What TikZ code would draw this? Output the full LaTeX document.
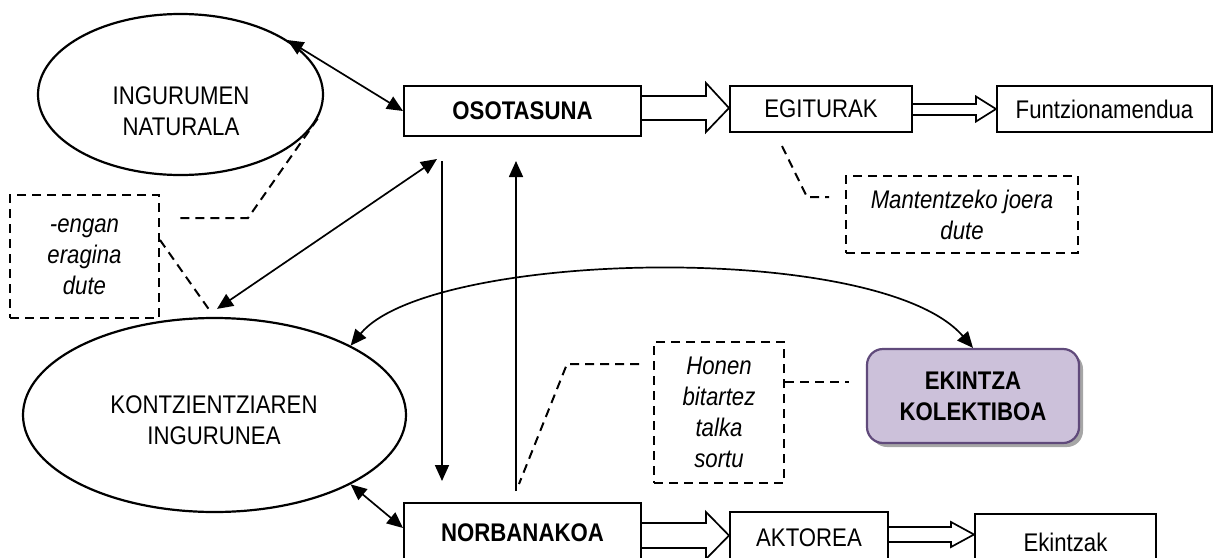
\documentclass[tikz,border=0pt]{standalone}
\usepackage{fontspec}
\setmainfont{Liberation Sans}[FakeStretch=0.87]
\usetikzlibrary{shapes.geometric,arrows.meta,calc,shadows}
\definecolor{ekfill}{HTML}{CCC1DA}
\definecolor{ekborder}{HTML}{604A7B}
\begin{document}
\begin{tikzpicture}[x=1pt,y=-1pt,
  font=\fontsize{25.5}{31}\selectfont,
  box/.style={draw, line width=2pt, inner sep=0pt, align=center},
  boldbox/.style={box, font=\fontsize{25.5}{31}\selectfont\bfseries},
  oval/.style={draw, ellipse, line width=2.2pt, inner sep=0pt},
  ovaltext/.style={align=center, inner sep=0pt},
  note/.style={draw, line width=2pt, dash pattern=on 9pt off 6pt, inner sep=0pt, align=center, font=\fontsize{25.5}{31}\selectfont\itshape},
  link/.style={line width=1.7pt, -{Triangle[length=16pt,width=14pt]}},
  dlink/.style={line width=1.7pt, {Triangle[length=16pt,width=14pt]}-{Triangle[length=16pt,width=14pt]}},
  dashline/.style={line width=2pt, dash pattern=on 9pt off 6pt},
  block/.style={draw, line width=1.7pt, fill=white, line join=miter}]
\clip (0,0) rectangle (1213,557);

% ellipses
\node[oval, minimum width=285pt, minimum height=161pt] (e1) at (180.5,94.5) {};
\node[ovaltext] (e1t) at (181,111.5) {INGURUMEN\\NATURALA};
\node[oval, minimum width=383pt, minimum height=194pt] (e2) at (214.5,415) {};
\node[ovaltext] (e2t) at (214,420.5) {KONTZIENTZIAREN\\INGURUNEA};

% boxes
\node[boldbox, minimum width=237pt, minimum height=50pt] (osot) at (522.5,111) {OSOTASUNA};
\node[box, minimum width=182pt, minimum height=46pt] (egit) at (821,109) {EGITURAK};
\node[box, minimum width=215pt, minimum height=46pt] (funtz) at (1104.5,109) {Funtzionamendua};
\node[boldbox, minimum width=237pt, minimum height=60pt] (norb) at (522.5,533) {NORBANAKOA};
\node[box, minimum width=158pt, minimum height=52pt] (akt) at (809,538) {AKTOREA};
\node[box, minimum width=181pt, minimum height=56pt] (ekz) at (1065.5,542) {Ekintzak};

% notes
\node[note, minimum width=232pt, minimum height=77pt] (mant) at (962,214.5) {Mantentzeko joera\\dute};
\node[note, minimum width=149pt, minimum height=123pt] (engan) at (84.5,256.5) {-engan\\eragina\\dute};
\node[note, minimum width=130pt, minimum height=141pt] (honen) at (719,412.5) {Honen\\bitartez\\talka\\sortu};

% collective action
\node[draw=ekborder, fill=ekfill, rounded corners=16pt, line width=2.2pt,
      minimum width=212pt, minimum height=94pt, align=center, inner sep=0pt,
      font=\fontsize{25.5}{31}\selectfont\bfseries,
      drop shadow={shadow xshift=4pt, shadow yshift=-4pt, fill=black!35, opacity=1}] (ekin) at (973,396) {EKINTZA\\KOLEKTIBOA};

% block arrows
\draw[block] ($(osot.east)+(0,-15)$) -- ($(egit.west)+(-23,-13)$) -- ($(egit.west)+(-23,-26)$) -- ($(egit.west)+(0,-1)$)
  -- ($(egit.west)+(-23,23)$) -- ($(egit.west)+(-23,11)$) -- ($(osot.east)+(0,9)$);
\draw[block] ($(egit.east)+(0,-5)$) -- ($(funtz.west)+(-20,-5)$) -- ($(funtz.west)+(-20,-12.5)$) -- (funtz.west)
  -- ($(funtz.west)+(-20,12.5)$) -- ($(funtz.west)+(-20,6)$) -- ($(egit.east)+(0,6)$);
\draw[block] ($(norb.east)+(0,-10)$) -- ($(akt.west)+(-23,-15)$) -- ($(akt.west)+(-23,-26)$) -- ($(akt.west)+(0,-2.5)$)
  -- ($(akt.west)+(-23,21)$) -- ($(akt.west)+(-23,10)$) -- ($(norb.east)+(0,15)$);
\draw[block] ($(akt.east)+(0,-11)$) -- ($(ekz.west)+(-23,-15)$) -- ($(ekz.west)+(-23,-20)$) -- ($(ekz.west)+(0,-7.5)$)
  -- ($(ekz.west)+(-23,5)$) -- ($(ekz.west)+(-23,0)$) -- ($(akt.east)+(0,4)$);

% arrows
\draw[dlink] (e1.27) -- (osot.west);
\draw[dlink] ($(osot.south west)+(34,22)$) -- ($(e2.north)+(2.5,-8)$);
\draw[link] ($(osot.south west)+(39,24)$) -- ($(norb.north west)+(39,-21)$);
\draw[link] ($(norb.north west)+(113,-11)$) -- ($(osot.south west)+(113,24)$);
\draw[dlink] (e2.-27) -- ($(norb.west)+(0,-5)$);
\draw[dlink] (e2.27) .. controls (430,250) and (880,240) .. (ekin.north);

% dashed connectors
\draw[dashline, shorten >=16pt] (e1.-10) -- (248,218) -- ($(engan.east)+(0,-38.5)$);
\draw[dashline] ($(engan.east)+(0,-16.5)$) -- ($(e2.north)+(-4.5,-6)$);
\draw[dashline, shorten >=16pt] ($(egit.south west)+(53,13)$) -- (807,197) -- ($(mant.west)+(0,-17.5)$);
\draw[dashline, shorten <=14pt] ($(honen.west)+(0,-48.5)$) -- (567,364) -- ($(norb.north west)+(116,-18)$);
\draw[dashline, shorten >=17pt] ($(honen.east)+(0,-30.5)$) -- ($(ekin.west)+(0,-14)$);
\end{tikzpicture}
\end{document}
